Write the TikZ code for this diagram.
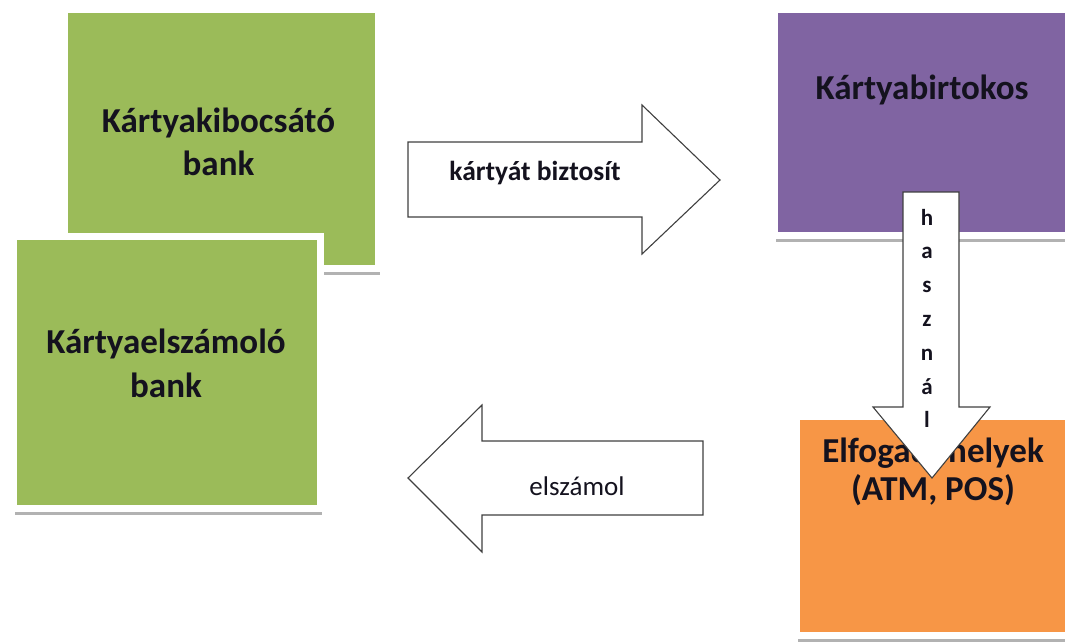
\documentclass[tikz,border=0pt]{standalone}
\usepackage{fontspec}
\setmainfont{Carlito}
\usetikzlibrary{shadows}
\definecolor{cardgreen}{HTML}{9BBB59}
\definecolor{cardpurple}{HTML}{8064A2}
\definecolor{cardorange}{HTML}{F79646}
\definecolor{arrowline}{HTML}{404040}
\definecolor{cardink}{HTML}{14121E}

\begin{document}
\begin{tikzpicture}[x=1pt,y=-1pt,
    card/.style={draw=white,line width=7pt,inner sep=0pt,outer sep=0pt,
        drop shadow={shadow xshift=1pt,shadow yshift=-6pt,fill=black!30,opacity=1}},
    card text/.style={align=center,anchor=base,text=cardink,inner sep=0pt},
    big arrow/.style={draw=arrowline,line width=1.1pt,fill=white,line join=miter}]

            \useasboundingbox (0,0) rectangle (1065,641);
            \clip (0,0) rectangle (1065,641);

            \node[card, fill=cardgreen, minimum width=314pt, minimum height=259pt]  (issuer)   at (221.5,139) {};
            \node[card, fill=cardgreen, minimum width=307pt, minimum height=272pt]  (acquirer) at (167,372.5) {};
            \node[card, fill=cardpurple, minimum width=295pt, minimum height=226pt] (holder)   at (922,122.5) {};
            \node[card, fill=cardorange, minimum width=272pt, minimum height=219pt] (merchant) at (932.5,526) {};

            % last line on the base anchor
            \node[card text, font=\bfseries\fontsize{35}{43}\selectfont] (issuertext)   at (218.5,175) {Kártyakibocsátó\\bank};
            \node[card text, font=\bfseries\fontsize{35}{44}\selectfont] (acquirertext) at (166,397)   {Kártyaelszámoló\\bank};
            \node[card text, font=\bfseries\fontsize{35}{38}\selectfont] (holdertext)   at (922,99)    {Kártyabirtokos};
            \node[card text, font=\bfseries\fontsize{35}{38}\selectfont] (merchanttext) at (933,500)   {Elfogadóhelyek\\(ATM, POS)};

            % kártyát biztosít
            \draw[big arrow] (408,142) -- (642,142) -- (642,105) -- (720,180) -- (642,254) -- (642,217) -- (408,217) -- cycle;
            \node[card text, font=\bfseries\fontsize{27.5}{30}\selectfont] (givelabel) at (535,180) {kártyát biztosít};

            % elszámol
            \draw[big arrow] (703,441) -- (482,441) -- (482,405) -- (408,478) -- (482,552) -- (482,515) -- (703,515) -- cycle;
            \node[card text, font=\fontsize{27}{30}\selectfont] (settlelabel) at (577,495) {elszámol};

            % használ
            \draw[big arrow] (903,192) -- (959,192) -- (959,407) -- (990,407) -- (932,478) -- (873,407) -- (903,407) -- cycle;
            \foreach \ch [count=\i from 0] in {h,a,s,z,n,á,l}
                \node[card text, font=\bfseries\fontsize{23}{23}\selectfont] (use\i) at (927,{225+33.8*\i}) {\ch};

        \end{tikzpicture}
\end{document}
